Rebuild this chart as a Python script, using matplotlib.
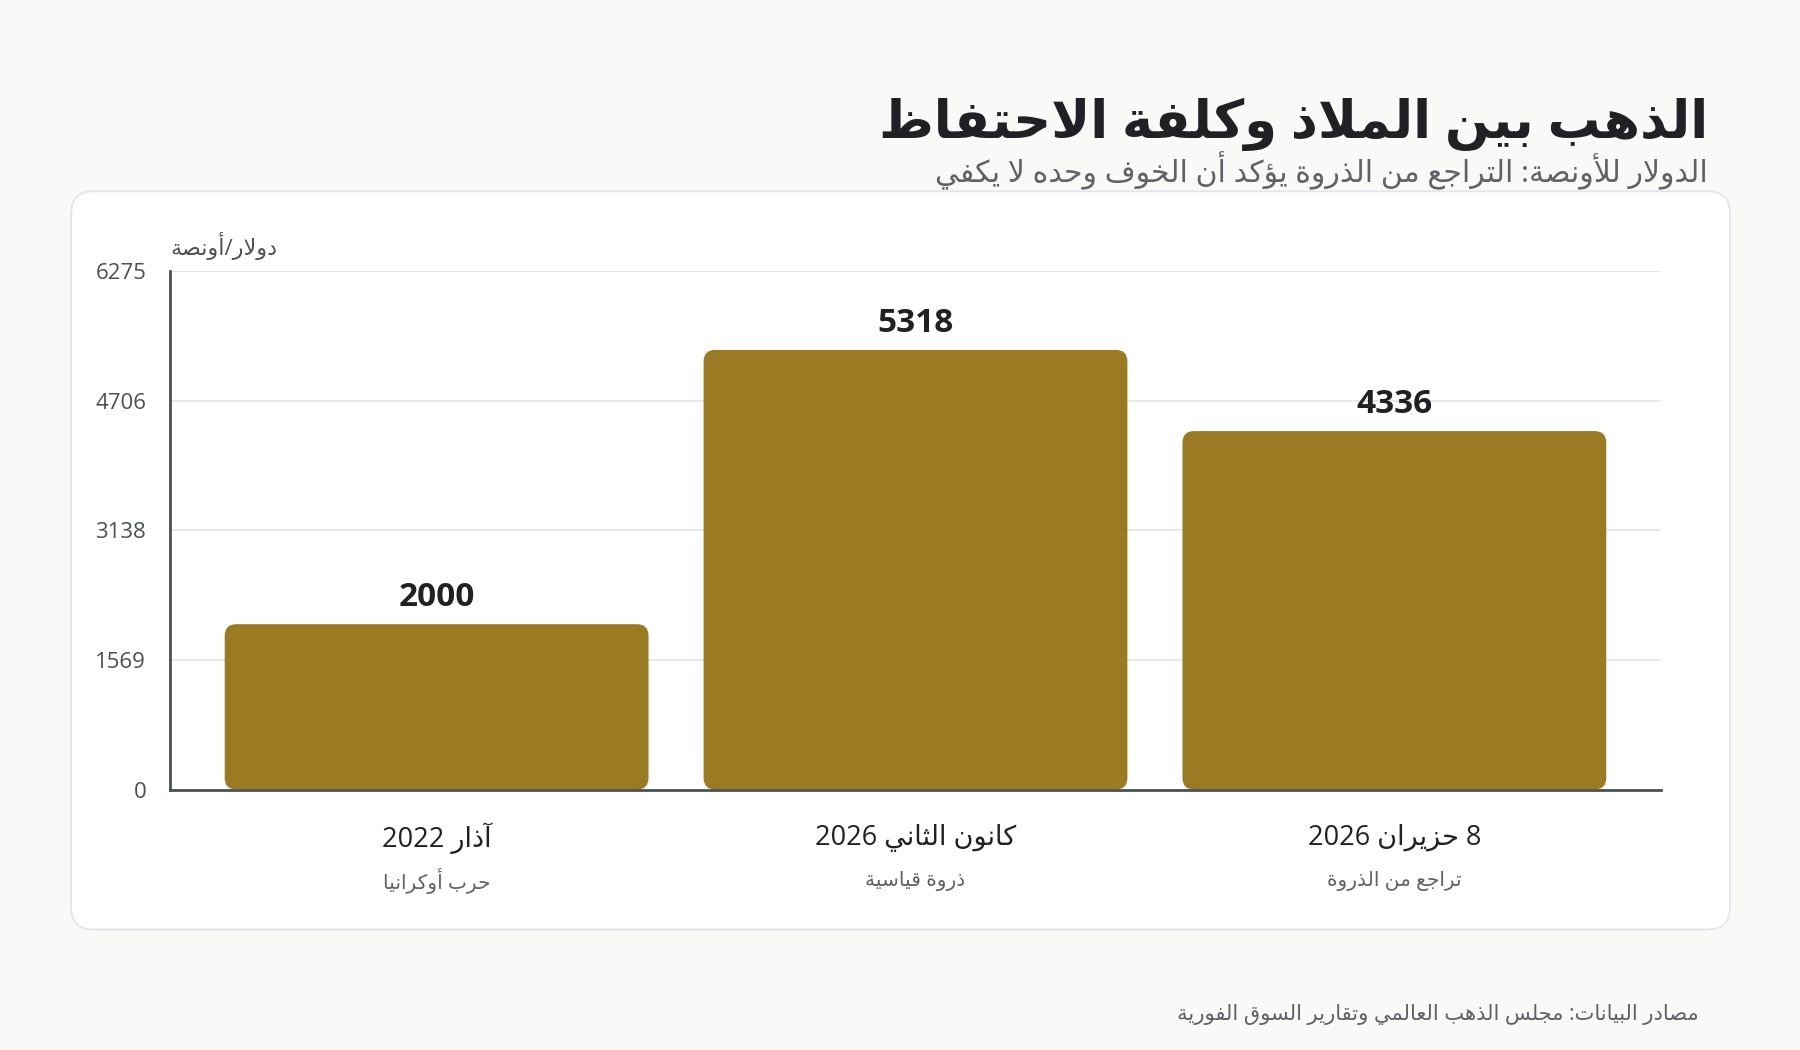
import re
import matplotlib
matplotlib.use("Agg")
import matplotlib.pyplot as plt
from matplotlib.patches import FancyBboxPatch
from matplotlib.transforms import blended_transform_factory

# ---- data ----
categories = ["آذار 2022", "كانون الثاني 2026", "8 حزيران 2026"]
sublabels = ["حرب أوكرانيا", "ذروة قياسية", "تراجع من الذروة"]
values = [2000, 5318, 4336]
yticks = [0, 1569, 3138, 4706, 6275]

title = "الذهب بين الملاذ وكلفة الاحتفاظ"
subtitle = "الدولار للأونصة: التراجع من الذروة يؤكد أن الخوف وحده لا يكفي"
ylabel = "دولار/أونصة"
source = "مصادر البيانات: مجلس الذهب العالمي وتقارير السوق الفورية"

# ---- minimal arabic shaping (matplotlib has no complex text layout) ----
FORMS = {
    'ء': (0xFE80, 1), 'آ': (0xFE81, 2), 'أ': (0xFE83, 2), 'ؤ': (0xFE85, 2), 'إ': (0xFE87, 2),
    'ئ': (0xFE89, 4), 'ا': (0xFE8D, 2), 'ب': (0xFE8F, 4), 'ة': (0xFE93, 2), 'ت': (0xFE95, 4),
    'ث': (0xFE99, 4), 'ج': (0xFE9D, 4), 'ح': (0xFEA1, 4), 'خ': (0xFEA5, 4), 'د': (0xFEA9, 2),
    'ذ': (0xFEAB, 2), 'ر': (0xFEAD, 2), 'ز': (0xFEAF, 2), 'س': (0xFEB1, 4), 'ش': (0xFEB5, 4),
    'ص': (0xFEB9, 4), 'ض': (0xFEBD, 4), 'ط': (0xFEC1, 4), 'ظ': (0xFEC5, 4), 'ع': (0xFEC9, 4),
    'غ': (0xFECD, 4), 'ف': (0xFED1, 4), 'ق': (0xFED5, 4), 'ك': (0xFED9, 4), 'ل': (0xFEDD, 4),
    'م': (0xFEE1, 4), 'ن': (0xFEE5, 4), 'ه': (0xFEE9, 4), 'و': (0xFEED, 2), 'ى': (0xFEEF, 2),
    'ي': (0xFEF1, 4),
}
LAM_ALEF = {'آ': 0xFEF5, 'أ': 0xFEF7, 'إ': 0xFEF9, 'ا': 0xFEFB}


def shape(s):
    toks = []
    i = 0
    while i < len(s):
        c = s[i]
        if c == 'ل' and i + 1 < len(s) and s[i + 1] in LAM_ALEF:
            toks.append((c, LAM_ALEF[s[i + 1]], 2))
            i += 2
            continue
        if c in FORMS:
            toks.append((c,) + FORMS[c])
        else:
            toks.append((c, None, 0))
        i += 1
    out = []
    for k, (c, base, n) in enumerate(toks):
        if base is None:
            out.append(c)
            continue
        pj = k > 0 and toks[k - 1][2] == 4
        nj = n == 4 and k + 1 < len(toks) and toks[k + 1][2] >= 2
        if n == 1:
            f = 0
        elif n == 2:
            f = 1 if pj else 0
        else:
            f = (3 if nj else 1) if pj else (2 if nj else 0)
        out.append(chr(base + f))
    return ''.join(out)


def ar(s):
    parts = re.findall(r'[0-9]+|.', shape(s))
    return ''.join(reversed(parts))


FONT = ['Open Sans', 'DejaVu Sans']
plt.rcParams['font.family'] = FONT

W, H = 1800, 1050
S = 1800 / 1568.0   # reference was measured at 1568 px wide


def fx(x):
    return x / 1568.0


def fy(y):
    return 1 - y / 915.0


fig = plt.figure(figsize=(W / 100, H / 100), dpi=100)
fig.patch.set_facecolor('#f9f9f8')

# card
card = FancyBboxPatch((62 * S / 100, (915 - 810) * S / 100), (1507 - 62) * S / 100, (810 - 167) * S / 100,
                      boxstyle="round,pad=0,rounding_size=0.22", transform=fig.dpi_scale_trans,
                      facecolor='white', edgecolor='#e3e5e8', linewidth=1.3, zorder=-1)
fig.patches.append(card)

fig.text(fx(1488), fy(108), ar(title), ha='right', va='center', fontsize=38,
         fontweight='bold', color='#202124')
fig.text(fx(1488), fy(149), ar(subtitle), ha='right', va='center', fontsize=21.5,
         color='#5f6368')
fig.text(fx(1480), fy(884), ar(source), ha='right', va='center', fontsize=15.2,
         color='#5f6368')

ax = fig.add_axes([fx(148), fy(688), fx(1447) - fx(148), fy(236) - fy(688)])
ax.set_facecolor('none')
x = list(range(len(values)))
ax.set_xlim(-0.557, len(values) - 1 + 0.557)
ax.set_ylim(0, yticks[-1])
ax.set_yticks(yticks)
ax.set_yticklabels([str(t) for t in yticks])
ax.set_xticks([])
ax.tick_params(axis='y', length=0, pad=17, labelsize=16, labelcolor='#4b5058')
ax.grid(axis='y', color='#e6e8eb', linewidth=1.4)
ax.set_axisbelow(True)
for side in ['top', 'right']:
    ax.spines[side].set_visible(False)
for side in ['left', 'bottom']:
    ax.spines[side].set_color('#4b5058')
    ax.spines[side].set_linewidth(2)
    ax.spines[side].set_zorder(5)

# rounded bars
p0 = ax.transData.transform((0, 0))
p1 = ax.transData.transform((1, 1000))
px_x = p1[0] - p0[0]
px_y = (p1[1] - p0[1]) / 1000.0
rad = 11.5
bw = 0.885
for xi, v in zip(x, values):
    bar = FancyBboxPatch((xi - bw / 2, 0), bw, v,
                         boxstyle="round,pad=0,rounding_size=%f" % (rad / px_x),
                         mutation_aspect=px_x / px_y,
                         facecolor='#9b7a24', edgecolor='none', zorder=2)
    ax.add_patch(bar)
    ax.annotate(str(v), (xi, v), xytext=(0, 19), textcoords='offset points',
                ha='center', va='center', fontsize=24, fontweight='bold', color='#202124')

trans = blended_transform_factory(ax.transData, ax.transAxes)
for xi, c, s in zip(x, categories, sublabels):
    ax.annotate(ar(c), (xi, 0), xycoords=trans, xytext=(0, -35), textcoords='offset points',
                ha='center', va='center', fontsize=19.5, color='#202124', annotation_clip=False)
    ax.annotate(ar(s), (xi, 0), xycoords=trans, xytext=(0, -66), textcoords='offset points',
                ha='center', va='center', fontsize=14.5, color='#5f6368', annotation_clip=False)

ax.text(0, 1.02, ar(ylabel), transform=ax.transAxes, ha='left', va='bottom',
        fontsize=16, color='#4b5058')

fig.savefig('out.png', dpi=100, facecolor=fig.get_facecolor())
